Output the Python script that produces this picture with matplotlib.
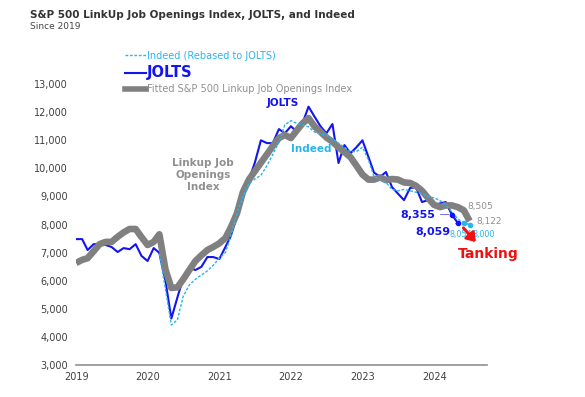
import pandas as pd
import matplotlib.pyplot as plt
import matplotlib.dates as mdates
from matplotlib.ticker import FuncFormatter
from matplotlib.lines import Line2D

# monthly values (thousands of openings), month-end dates
jolts = [7480, 7480, 7090, 7300, 7300, 7270, 7200, 7020, 7160, 7120, 7300, 6880, 6700,
         7160, 6990, 6000, 4650, 5400, 6100, 6450, 6380, 6490, 6840, 6840, 6770,
         7200, 7600, 8300, 9300, 9600, 10200, 11000, 10900, 10900, 11400, 11250, 11500,
         11300, 11600, 12200, 11850, 11500, 11250, 11580, 10190, 10830, 10540, 10750, 11000,
         10400, 9850, 9700, 9870, 9330, 9100, 8870, 9300, 9330, 8800, 8870, 8700,
         8750, 8800, 8355, 8059]
jolts_dates = pd.date_range('2018-12-31', periods=len(jolts), freq='ME')

indeed = [6950, 5700, 4420, 4600, 5450, 5850, 6050, 6200, 6350, 6550, 6800,
          7000, 7600, 8400, 9000, 9450, 9620, 9750, 10100, 10500, 10930, 11550, 11700,
          11600, 11550, 11480, 11300, 11220, 11190, 11050, 10900, 10750, 10600, 10600, 10750,
          10300, 9700, 9600, 9500, 9250, 9200, 9250, 9200, 9150, 9100, 9000, 8950,
          8850, 8700, 8450, 8200, 8050, 8000]
indeed_dates = pd.date_range('2020-02-29', periods=len(indeed), freq='ME')

linkup = [6630, 6740, 6800, 7050, 7300, 7380, 7380, 7560, 7720, 7840, 7840, 7550, 7270,
          7380, 7650, 6400, 5740, 5760, 6050, 6380, 6700, 6900, 7090, 7200, 7330,
          7520, 7900, 8400, 9150, 9600, 9900, 10200, 10500, 10800, 11080, 11190, 11080,
          11360, 11600, 11790, 11500, 11300, 11100, 10950, 10750, 10580, 10400, 10100, 9780,
          9600, 9600, 9680, 9580, 9620, 9600, 9500, 9480, 9380, 9200, 8950, 8700,
          8620, 8680, 8680, 8620, 8505, 8122]
linkup_dates = pd.date_range('2018-12-31', periods=len(linkup), freq='ME')

years = [2019, 2020, 2021, 2022, 2023, 2024]

BLUE = '#1414f0'
CYAN = '#2ab4ec'
GREY = '#808080'
TXT = '#404040'

fig = plt.figure(figsize=(5.85, 3.97), dpi=100)
ax = fig.add_axes([0.130, 0.081, 0.702, 0.707])

ax.plot(jolts_dates, jolts, color=BLUE, lw=1.5, zorder=2)
ax.plot(linkup_dates, linkup, color=GREY, lw=4.8, solid_capstyle='butt', zorder=3)
ax.plot(indeed_dates, indeed, color=CYAN, lw=1.0, ls=(0, (2, 1.2)), zorder=4)

# end point markers
ax.plot(jolts_dates[-2:], jolts[-2:], 'o', color=BLUE, ms=3, zorder=5)
ax.plot(indeed_dates[-2:], indeed[-2:], 'o', color=CYAN, ms=3, zorder=5)

ax.set_ylim(3000, 13000)
ax.set_xlim(pd.Timestamp('2018-12-31'), pd.Timestamp('2024-09-25'))
ax.set_yticks(range(3000, 13001, 1000))
ax.yaxis.set_major_formatter(FuncFormatter(lambda v, p: f'{int(v):,}'))
ax.set_xticks([pd.Timestamp(f'{y}-01-01') for y in years])
ax.xaxis.set_major_formatter(mdates.DateFormatter('%Y'))
ax.tick_params(length=0, labelsize=7, colors=TXT, pad=6)
ax.tick_params(axis='x', pad=5)
for s in ['top', 'right', 'left']:
    ax.spines[s].set_visible(False)
ax.spines['bottom'].set_color('#909090')
ax.spines['bottom'].set_linewidth(1.2)

# inline labels
ax.text(pd.Timestamp('2021-11-20'), 12330, 'JOLTS', color=BLUE, fontsize=7.5,
        fontweight='bold', ha='center', va='center')
ax.text(pd.Timestamp('2022-04-15'), 10700, 'Indeed', color=CYAN, fontsize=7.5,
        fontweight='bold', ha='center', va='center')
ax.text(pd.Timestamp('2020-10-10'), 9750, 'Linkup Job\nOpenings\nIndex', color='#909090',
        fontsize=7.5, fontweight='bold', ha='center', va='center', linespacing=1.25)

# end value labels
ax.annotate(f'{jolts[-2]:,}', xy=(jolts_dates[-2], jolts[-2]),
            xytext=(pd.Timestamp('2023-07-10'), jolts[-2]), color=BLUE, fontsize=8,
            fontweight='bold', ha='left', va='center',
            arrowprops=dict(arrowstyle='-', color='#7070f0', lw=0.7))
ax.annotate(f'{jolts[-1]:,}', xy=(jolts_dates[-1], jolts[-1]),
            xytext=(pd.Timestamp('2023-09-25'), 7750), color=BLUE, fontsize=8,
            fontweight='bold', ha='left', va='center',
            arrowprops=dict(arrowstyle='-', color='#7070f0', lw=0.7))
ax.text(pd.Timestamp('2024-06-20'), linkup[-2] + 130, f'{linkup[-2]:,}', color='#909090',
        fontsize=6.5, ha='left', va='center')
ax.text(pd.Timestamp('2024-08-01'), linkup[-1], f'{linkup[-1]:,}', color='#909090',
        fontsize=6.5, ha='left', va='center')
ax.text(pd.Timestamp('2024-05-18'), 7640, '8,054', color=CYAN, fontsize=5.8,
        ha='center', va='center', zorder=3)
ax.text(pd.Timestamp('2024-09-12'), 7640, f'{indeed[-1]:,}', color=CYAN, fontsize=5.8,
        ha='center', va='center')

ax.annotate('', xy=(pd.Timestamp('2024-08-10'), 7300),
            xytext=(pd.Timestamp('2024-05-20'), 7950),
            arrowprops=dict(arrowstyle='-|>,head_width=0.35,head_length=0.5',
                            color='#ee1111', lw=2.2), zorder=6)
ax.text(pd.Timestamp('2024-05-01'), 6950, 'Tanking', color='#ee1111', fontsize=10,
        fontweight='bold', ha='left', va='center')

# legend
handles = [Line2D([], [], color=CYAN, lw=1.0, ls=(0, (2, 1.2))),
           Line2D([], [], color=BLUE, lw=1.5),
           Line2D([], [], color=GREY, lw=4)]
labels = ['Indeed (Rebased to JOLTS)', 'JOLTS', 'Fitted S&P 500 Linkup Job Openings Index']
leg = fig.legend(handles, labels, loc='upper left', bbox_to_anchor=(0.205, 0.885),
                 frameon=False, handlelength=2.2, handletextpad=0.1, labelspacing=0.45,
                 borderpad=0, fontsize=7)
texts = leg.get_texts()
texts[0].set_color(CYAN)
texts[1].set_color(BLUE)
texts[1].set_fontsize(10.5)
texts[1].set_fontweight('bold')
texts[2].set_color('#909090')

fig.text(0.051, 0.963, 'S&P 500 LinkUp Job Openings Index, JOLTS, and Indeed', fontsize=7.5,
         fontweight='bold', color='#333333', ha='left', va='center')
fig.text(0.051, 0.933, 'Since 2019', fontsize=6.5, color='#444444', ha='left', va='center')

fig.savefig('out.png', dpi=100)
